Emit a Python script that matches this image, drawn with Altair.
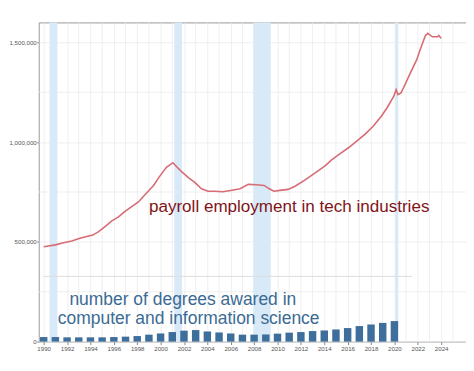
import altair as alt
import pandas as pd

# payroll employment in tech industries
pay_year = [1990.0, 1991.0, 1991.7, 1992.4, 1993.1, 1993.6, 1994.2, 1994.7, 1995.3, 1995.8,
            1996.4, 1996.9, 1997.5, 1998.1, 1998.8, 1999.4, 1999.9, 2000.5, 2001.05, 2001.7,
            2002.4, 2002.9, 2003.5, 2004.05, 2004.6, 2005.3, 2006.0, 2006.8, 2007.5, 2008.2,
            2008.85, 2009.3, 2009.7, 2010.2, 2010.9, 2011.5, 2012.3, 2013.1, 2014.1, 2014.6,
            2015.3, 2016.1, 2016.8, 2017.5, 2018.2, 2018.9, 2019.4, 2019.95, 2020.15, 2020.3,
            2020.55, 2020.8, 2021.3, 2021.9, 2022.3, 2022.65, 2022.85, 2023.25, 2023.7, 2023.8,
            2024.0]
pay_value = [476000, 485000, 496000, 504000, 518000, 526000, 534000, 551000, 579000, 604000,
             625000, 650000, 675000, 700000, 745000, 783000, 827000, 874000, 897000, 857000,
             821000, 799000, 766000, 754000, 754000, 751000, 758000, 766000, 788000, 786000,
             783000, 766000, 754000, 758000, 763000, 779000, 808000, 841000, 882000, 910000,
             940000, 973000, 1006000, 1040000, 1081000, 1131000, 1175000, 1230000, 1263000, 1238000,
             1246000, 1275000, 1338000, 1412000, 1479000, 1533000, 1545000, 1528000, 1528000, 1535000,
             1520000]

# degrees awarded in computer and information science
deg_year = list(range(1990, 2021))
deg_value = [23000, 23000, 21500, 21500, 21500, 21500, 23000, 25000, 28000, 35000,
             41000, 48000, 55000, 58000, 51000, 46000, 41000, 35000, 35000, 36000,
             40000, 45000, 48000, 53000, 56000, 61000, 68000, 78000, 86000, 94000,
             103000]

# recessions
rec_start = [1990.5, 2001.17, 2007.92, 2020.08]
rec_end = [1991.17, 2001.83, 2009.42, 2020.33]

# separator line of the lower chart
sep_value = [327000]
sep_start = [1990.0]
sep_end = [2021.5]

# annotations
lab_text = ["payroll employment in tech industries",
            "number of degrees awared in",
            "computer and information science"]
lab_year = [2011.0, 2001.9, 2002.4]
lab_value = [650000, 186000, 87000]
lab_group = ["pay", "deg", "deg"]

# axis ticks and minor grid
x_ticks = list(range(1990, 2025, 2))
x_minor = list(range(1991, 2026, 2))
y_ticks = [0, 500000, 1000000, 1500000]
y_minor = [250000, 750000, 1250000]

pay = pd.DataFrame({"year": pay_year, "value": pay_value})
deg = pd.DataFrame({"year": deg_year, "value": deg_value})
rec = pd.DataFrame({"start": rec_start, "end": rec_end})
sep = pd.DataFrame({"value": sep_value, "start": sep_start, "end": sep_end})
lab = pd.DataFrame({"text": lab_text, "year": lab_year, "value": lab_value, "group": lab_group})
xmin = pd.DataFrame({"year": x_minor})
ymin = pd.DataFrame({"value": y_minor})

xs = alt.Scale(domain=[1990, 2025.7], nice=False, zero=False)
ys = alt.Scale(domain=[0, 1600000], nice=False)

common = dict(
    title=None, grid=True, gridColor="#ebebeb", gridWidth=0.8,
    labelFont="Liberation Sans", labelFontSize=6.2, labelColor="#555555",
    tickColor="#888888", domain=False,
    labelOverlap=False, labelFlush=False, labelBound=False, labelSeparation=0,
)
x_axis = alt.Axis(values=x_ticks, format="d", tickSize=3, labelPadding=1, **common)
y_axis = alt.Axis(values=y_ticks, format=",d", tickSize=2, labelPadding=0.5, **common)

grid_holder = alt.Chart(pay).mark_point(opacity=0).encode(
    x=alt.X("year:Q", scale=xs, axis=x_axis),
    y=alt.Y("value:Q", scale=ys, axis=y_axis),
)

minor_x = alt.Chart(xmin).mark_rule(color="#ebebeb", strokeWidth=0.8).encode(
    x=alt.X("year:Q", scale=xs, axis=x_axis),
)
minor_y = alt.Chart(ymin).mark_rule(color="#ebebeb", strokeWidth=0.8).encode(
    y=alt.Y("value:Q", scale=ys, axis=y_axis),
)

rects = alt.Chart(rec).mark_rect(color="#d8eaf8").encode(
    x=alt.X("start:Q", scale=xs, axis=x_axis),
    x2="end:Q",
)

sep_line = alt.Chart(sep).mark_rule(color="#dddddd", strokeWidth=1).encode(
    x=alt.X("start:Q", scale=xs, axis=x_axis), x2="end:Q",
    y=alt.Y("value:Q", scale=ys, axis=y_axis),
)

bars = alt.Chart(deg).mark_bar(color="#3e6e9c", size=7.5).encode(
    x=alt.X("year:Q", scale=xs, axis=x_axis),
    y=alt.Y("value:Q", scale=ys, axis=y_axis),
)

line = alt.Chart(pay).mark_line(color="#d86c74", strokeWidth=1.6).encode(
    x=alt.X("year:Q", scale=xs, axis=x_axis),
    y=alt.Y("value:Q", scale=ys, axis=y_axis),
)

texts = alt.Chart(lab).mark_text(
    font="Liberation Sans", align="center", baseline="alphabetic"
).encode(
    x=alt.X("year:Q", scale=xs, axis=x_axis),
    y=alt.Y("value:Q", scale=ys, axis=y_axis),
    text="text:N",
    color=alt.Color("group:N", scale=alt.Scale(domain=["pay", "deg"], range=["#7f1418", "#3b6b94"]), legend=None),
    size=alt.Size("group:N", scale=alt.Scale(domain=["pay", "deg"], range=[17.2, 17.6]), legend=None),
)

chart = alt.layer(grid_holder, minor_x, minor_y, rects, sep_line, bars, line, texts).properties(
    width=431, height=322,
    autosize=alt.AutoSizeParams(type="none"),
    padding={"left": 31, "top": 13, "right": 0, "bottom": 20},
    background="white",
).configure_view(
    stroke="#999999", strokeWidth=1
)

chart.save("out.html", embed_options={"renderer": "svg", "actions": False})
